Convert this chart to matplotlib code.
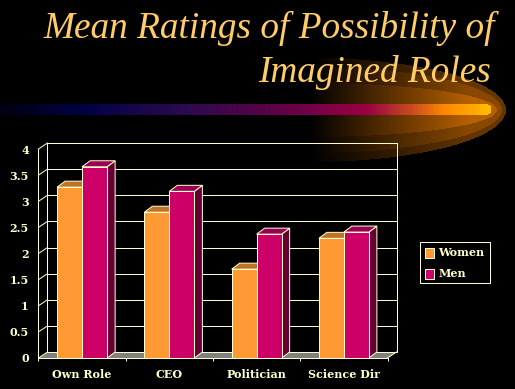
import matplotlib
matplotlib.use('Agg')
import matplotlib.pyplot as plt
import numpy as np
from matplotlib.colors import LinearSegmentedColormap
from matplotlib.patches import Polygon, Rectangle

categories = ['Own Role', 'CEO', 'Politician', 'Science Dir']
women = [3.27, 2.79, 1.70, 2.29]
men = [3.66, 3.19, 2.37, 2.41]
y_ticks = [0, 0.5, 1, 1.5, 2, 2.5, 3, 3.5, 4]
y_labels = ['0', '0.5', '1', '1.5', '2', '2.5', '3', '3.5', '4']

W, H = 515, 389
CREAM = '#ffffcc'
GOLD = '#ffcc66'
SERIF = 'Liberation Serif'
LABEL_FONT = 'DejaVu Serif'
LW = 0.72  # one pixel at dpi 100

# depth of the fake 3d, in data units
BAR_DX, BAR_DY = 8 / 87.25, 6 / 52.25
WALL_DX, WALL_DY = 9 / 87.25, 6 / 52.25
BAR_W = 25 / 87.25


def background():
    yy, xx = np.mgrid[0:H, 0:W]
    xx = xx + 0.5
    yy = yy + 0.5
    img = np.zeros((H, W, 3))

    # glow behind the streak, three nested ellipses
    ramp = np.clip((xx - 310) / 160, 0, 1)
    glow = np.array([0.72, 0.38, 0.0])
    for a, b, level in [(196, 52, 0.55), (192, 43, 0.75), (187, 27, 1.0)]:
        r = ((xx - 310) / a) ** 2 + ((yy - 110) / b) ** 2
        mask = (r < 1) & (xx > 310)
        for c in range(3):
            img[..., c][mask] = (ramp * glow[c] * level)[mask]

    # the streak
    cmap = LinearSegmentedColormap.from_list('streak', [
        (0.0, '#000010'), (0.16, '#000044'), (0.37, '#2a0a50'), (0.59, '#660044'),
        (0.75, '#990044'), (0.84, '#c84a20'), (0.91, '#ff8800'), (1.0, '#ffbb00')])
    streak = cmap(np.clip(xx / 490, 0, 1))[..., :3]
    mask = (np.abs(yy - 109.5) < 5.5) & (xx < 486)
    mask |= ((xx - 486) ** 2 + (yy - 109.5) ** 2 < 5.5 ** 2)
    img[mask] = streak[mask]
    return img


def box_side(ax, x, top, color):
    pts = [(x, 0), (x + BAR_DX, BAR_DY), (x + BAR_DX, top + BAR_DY), (x, top)]
    ax.add_patch(Polygon(pts, facecolor=color, edgecolor=CREAM, lw=LW, clip_on=False, zorder=4))


def box_top(ax, x, top, color):
    pts = [(x, top), (x + BAR_DX, top + BAR_DY), (x + BAR_W + BAR_DX, top + BAR_DY), (x + BAR_W, top)]
    ax.add_patch(Polygon(pts, facecolor=color, edgecolor=CREAM, lw=LW, clip_on=False, zorder=4))


fig = plt.figure(figsize=(W / 100, H / 100), dpi=100, facecolor='black')

bg = fig.add_axes([0, 0, 1, 1])
bg.imshow(background(), aspect='auto', interpolation='nearest')
bg.axis('off')

bg.text(494, 37, 'Mean Ratings of Possibility of', color=GOLD, family=SERIF, style='italic',
        fontsize=26.8, ha='right', va='baseline')
bg.text(490, 82, 'Imagined Roles', color=GOLD, family=SERIF, style='italic',
        fontsize=26.8, ha='right', va='baseline')

ax = fig.add_axes([38.5 / W, 1 - 358 / H, 349 / W, 209 / H])
ax.patch.set_visible(False)
ax.set_xlim(-0.5, 3.5)
ax.set_ylim(0, 4)
for s in ax.spines.values():
    s.set_visible(False)

# floor
ax.add_patch(Polygon([(-0.5, 0), (-0.5 + WALL_DX, WALL_DY), (3.5 + WALL_DX, WALL_DY), (3.5, 0)],
                     facecolor='#808080', edgecolor='none', clip_on=False, zorder=1))

# back wall lines and the diagonals on the left wall
for t in y_ticks:
    ax.plot([-0.5 + WALL_DX, 3.5 + WALL_DX], [t + WALL_DY, t + WALL_DY], color=CREAM, lw=LW,
            clip_on=False, zorder=2)
    ax.plot([-0.5, -0.5 + WALL_DX], [t, t + WALL_DY], color=CREAM, lw=LW, clip_on=False, zorder=2)
ax.plot([-0.5 + WALL_DX] * 2, [WALL_DY, 4 + WALL_DY], color=CREAM, lw=LW, clip_on=False, zorder=2)
ax.plot([3.5 + WALL_DX] * 2, [WALL_DY, 4 + WALL_DY], color=CREAM, lw=LW, clip_on=False, zorder=2)
ax.plot([3.5, 3.5 + WALL_DX], [0, WALL_DY], color=CREAM, lw=LW, clip_on=False, zorder=2)
ax.plot([-0.5, -0.5], [0, 4], color=CREAM, lw=LW, clip_on=False, zorder=2)
ax.plot([-0.5, 3.5], [0, 0], color=CREAM, lw=LW, clip_on=False, zorder=5)

# bars, women first so men sit on top
pos = np.arange(len(categories))
for i in pos:
    box_top(ax, i - BAR_W, women[i], '#bf7326')
    ax.bar(i - BAR_W / 2, women[i], BAR_W, color='#ff9933', edgecolor=CREAM, lw=LW, zorder=4, clip_on=False)
    box_side(ax, i + BAR_W, men[i], '#660033')
    box_top(ax, i, men[i], '#990055')
    ax.bar(i + BAR_W / 2, men[i], BAR_W, color='#cc0066', edgecolor=CREAM, lw=LW, zorder=4, clip_on=False)

ax.set_xticks(np.arange(-0.5, 4, 1), minor=False, labels=[])
ax.tick_params(axis='x', length=2, width=LW, color=CREAM)
ax.set_yticks(y_ticks, labels=y_labels)
ax.tick_params(axis='y', length=0, pad=7, labelcolor=CREAM)
for lab in ax.get_yticklabels():
    lab.set_family(LABEL_FONT)
    lab.set_fontweight('bold')
    lab.set_fontsize(8)
for i, name in enumerate(categories):
    ax.annotate(name, (i, 0), xytext=(0, -16), textcoords='offset pixels', ha='center', va='center',
                color=CREAM, family=LABEL_FONT, fontweight='bold', fontsize=8)

# legend, drawn by hand to get the box right
bg.add_patch(Rectangle((419.5, 241.5), 70, 41, facecolor='black', edgecolor=CREAM, lw=LW))
for y0, color, name in [(247.5, '#ff9933', 'Women'), (268.5, '#cc0066', 'Men')]:
    bg.add_patch(Rectangle((424.5, y0), 9, 10, facecolor=color, edgecolor=CREAM, lw=LW))
    bg.text(438, y0 + 5, name, color=CREAM, family=LABEL_FONT, fontweight='bold', fontsize=8,
            ha='left', va='center')

fig.savefig('out.png', dpi=100, facecolor='black')
